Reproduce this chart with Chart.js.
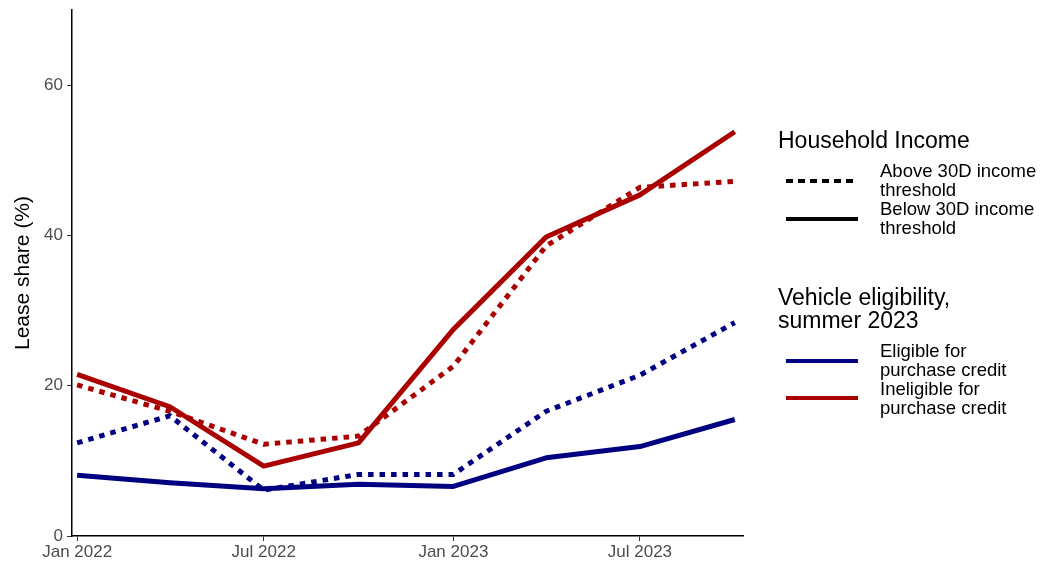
<!DOCTYPE html>
<html>
<head>
<meta charset="utf-8">
<script src="https://cdn.jsdelivr.net/npm/chart.js@4"></script>
<style>
  body { margin: 0; background: #fff; font-family: "Liberation Sans", Arial, sans-serif; }
  #wrap { position: relative; width: 1040px; height: 564px; }
  #wrap canvas { position: absolute; left: 0; top: 0; }
  .lg { position: absolute; color: #000; white-space: nowrap; }
  .lg-title { font-size: 23px; line-height: 23px; }
  .lg-label { font-size: 18.5px; line-height: 19px; }
  .lg-key { position: absolute; }
</style>
</head>
<body>
<div id="wrap">
  <canvas id="leaseChart" width="1040" height="564"></canvas>

  <div class="lg lg-title" style="left:778px; top:129px;">Household Income</div>
  <svg class="lg-key" style="left:786px; top:171px;" width="73" height="20">
    <line x1="0" y1="10" x2="72" y2="10" stroke="#000" stroke-width="4" stroke-dasharray="7 5"/>
  </svg>
  <div class="lg lg-label" style="left:880px; top:161px;">Above 30D income<br>threshold</div>
  <svg class="lg-key" style="left:786px; top:209px;" width="73" height="20">
    <line x1="0" y1="10" x2="72" y2="10" stroke="#000" stroke-width="4"/>
  </svg>
  <div class="lg lg-label" style="left:880px; top:199px;">Below 30D income<br>threshold</div>

  <div class="lg lg-title" style="left:778px; top:286px;">Vehicle eligibility,<br>summer 2023</div>
  <svg class="lg-key" style="left:786px; top:351px;" width="73" height="20">
    <line x1="0" y1="10" x2="72" y2="10" stroke="#000080" stroke-width="4"/>
  </svg>
  <div class="lg lg-label" style="left:880px; top:341px;">Eligible for<br>purchase credit</div>
  <svg class="lg-key" style="left:786px; top:388px;" width="73" height="20">
    <line x1="0" y1="10" x2="72" y2="10" stroke="#aa0000" stroke-width="4"/>
  </svg>
  <div class="lg lg-label" style="left:880px; top:379px;">Ineligible for<br>purchase credit</div>
</div>

<script>
// quarterly observation dates
const periods = ['2022-01-01', '2022-04-01', '2022-07-01', '2022-10-01',
                 '2023-01-01', '2023-04-01', '2023-07-01', '2023-10-01'];

// lease share (%) by vehicle eligibility and household income
const eligibleAbove   = [12.4, 16.0, 6.1, 8.2, 8.2, 16.6, 21.4, 28.4];
const eligibleBelow   = [8.1, 7.1, 6.3, 6.9, 6.6, 10.4, 11.9, 15.5];
const ineligibleAbove = [20.1, 16.6, 12.2, 13.3, 22.6, 38.6, 46.4, 47.2];
const ineligibleBelow = [21.5, 17.2, 9.3, 12.4, 27.5, 39.8, 45.4, 53.8];

const xTickDates  = ['2022-01-01', '2022-07-01', '2023-01-01', '2023-07-01'];
const xTickLabels = ['Jan 2022', 'Jul 2022', 'Jan 2023', 'Jul 2023'];
const yTicks = [0, 20, 40, 60];

const NAVY = '#000080';
const RED = '#aa0000';
const DOTS = [5.5, 6];

// x axis runs on days since the first observation
const day0 = Date.UTC(2022, 0, 1);
const toDay = s => {
  const [y, m, d] = s.split('-').map(Number);
  return (Date.UTC(y, m - 1, d) - day0) / 86400000;
};
const xs = periods.map(toDay);
const pts = vals => vals.map((v, i) => ({ x: xs[i], y: v }));

const line = (vals, color, dashed) => ({
  data: pts(vals),
  borderColor: color,
  borderWidth: 5,
  borderDash: dashed ? DOTS : [],
  borderCapStyle: 'butt',
  borderJoinStyle: 'round',
  pointRadius: 0,
  tension: 0,
  fill: false
});

const tickFont = { family: '"Liberation Sans", Arial, sans-serif', size: 17 };

new Chart(document.getElementById('leaseChart'), {
  type: 'line',
  data: {
    datasets: [
      line(eligibleBelow, NAVY, false),
      line(eligibleAbove, NAVY, true),
      line(ineligibleBelow, RED, false),
      line(ineligibleAbove, RED, true)
    ]
  },
  options: {
    responsive: false,
    animation: false,
    layout: { padding: { top: 10, right: 297, left: 0, bottom: 0 } },
    plugins: { legend: { display: false }, tooltip: { enabled: false } },
    scales: {
      x: {
        type: 'linear',
        min: -5,
        max: 646,
        afterBuildTicks: s => { s.ticks = xTickDates.map(d => ({ value: toDay(d) })); },
        afterFit: s => { s.height = 28; s.paddingLeft = 0; s.paddingRight = 0; },
        ticks: {
          color: '#4d4d4d',
          font: tickFont,
          padding: 1,
          maxRotation: 0,
          autoSkip: false,
          callback: (v, i) => xTickLabels[i]
        },
        grid: { drawOnChartArea: false, drawTicks: true, tickLength: 5, color: '#333' },
        border: { display: true, color: '#000', width: 1.5 }
      },
      y: {
        min: 0,
        max: 70,
        afterBuildTicks: s => { s.ticks = yTicks.map(v => ({ value: v })); },
        afterFit: s => { s.width = 72; s.paddingTop = 0; s.paddingBottom = 0; },
        ticks: { color: '#4d4d4d', font: tickFont, padding: 4 },
        grid: { drawOnChartArea: false, drawTicks: true, tickLength: 5, color: '#333' },
        border: { display: true, color: '#000', width: 1.5 },
        title: {
          display: true,
          text: 'Lease share (%)',
          color: '#000',
          font: { family: '"Liberation Sans", Arial, sans-serif', size: 21 },
          padding: { top: 11, bottom: 0 }
        }
      }
    }
  }
});
</script>
</body>
</html>
